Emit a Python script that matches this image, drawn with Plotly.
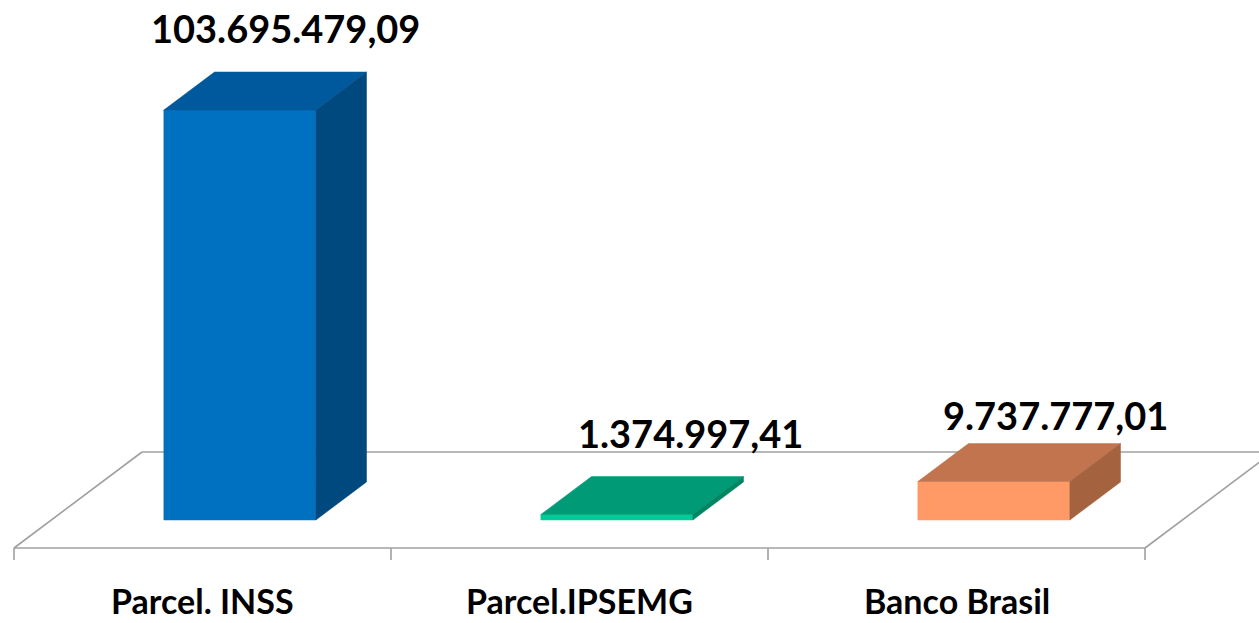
import plotly.graph_objects as go

# ---- data ----
categories = ["Parcel. INSS", "Parcel.IPSEMG", "Banco Brasil"]
values = [103695479.09, 1374997.41, 9737777.01]

# ---- style ----
front_colors = ["#0070C0", "#00CC99", "#FF9966"]
top_colors = ["#00599C", "#009B76", "#C1744D"]
side_colors = ["#00497F", "#008562", "#A4623F"]
label_xshift = [-5, 23, 11]
label_yshift = [44, 44, 29]
floor_color = "#A0A0A0"
W, H = 1259, 623

# geometry (pixel-based constants turned into axis units)
cat_px = 377.0          # pixel width of one category
x0_px = 14.0            # pixel of floor front-left corner
floor_y_px = 548.0      # pixel row of floor front edge
scale = 410.0 / 103695479.09   # px per value unit (linear axis from 0)
DX = 128.0 / cat_px     # depth shift in category units (full floor depth)
DY = 96.0 / scale       # depth shift in value units
bar_w = 152.0 / cat_px
d0, d1 = 28.0 / 96.0, 66.0 / 96.0
tick_len = 12.0 / scale


def proj(c, v, d):
    return c + d * DX, v + d * DY


fig = go.Figure()


def poly(pts, color):
    xs, ys = zip(*[proj(*p) for p in pts])
    xs = list(xs) + [xs[0]]
    ys = list(ys) + [ys[0]]
    fig.add_trace(go.Scatter(x=xs, y=ys, mode="lines", fill="toself",
                             fillcolor=color, line=dict(color=color, width=0.5),
                             hoverinfo="skip", showlegend=False))


def seg(p, q):
    a, b = proj(*p), proj(*q)
    fig.add_trace(go.Scatter(x=[a[0], b[0]], y=[a[1], b[1]], mode="lines",
                             line=dict(color=floor_color, width=1.6),
                             hoverinfo="skip", showlegend=False))


n = len(categories)
# floor
seg((0, 0, 0), (n, 0, 0))
seg((0, 0, 0), (0, 0, 1))
seg((0, 0, 1), (n + 0.2, 0, 1))
seg((n, 0, 0), (n, 0, 1))
for i in range(n + 1):
    seg((i, 0, 0), (i, -tick_len, 0))

# bars
for i, v in enumerate(values):
    c0 = i + 0.5 - bar_w / 2
    c1 = i + 0.5 + bar_w / 2
    poly([(c0, 0, d0), (c1, 0, d0), (c1, v, d0), (c0, v, d0)], front_colors[i])
    poly([(c0, v, d0), (c1, v, d0), (c1, v, d1), (c0, v, d1)], top_colors[i])
    poly([(c1, 0, d0), (c1, 0, d1), (c1, v, d1), (c1, v, d0)], side_colors[i])


def fmt_br(v):
    s = f"{v:,.2f}"
    return s.replace(",", "#").replace(".", ",").replace("#", ".")


for i, v in enumerate(values):
    x, y = proj(i + 0.5, v, d1)
    fig.add_annotation(x=x, y=y, text=f"<b>{fmt_br(v)}</b>", showarrow=False,
                       xanchor="center", yanchor="middle",
                       xshift=label_xshift[i], yshift=label_yshift[i],
                       font=dict(family="Lato", size=38, color="#000000"))

cat_y = -(600.0 - floor_y_px) / scale
for i, c in enumerate(categories):
    fig.add_annotation(x=i + 0.5, y=cat_y, text=f"<b>{c}</b>", showarrow=False,
                       xanchor="center", yanchor="middle", borderpad=0,
                       font=dict(family="Lato", size=34, color="#000000"))

fig.update_layout(
    width=W, height=H,
    margin=dict(l=0, r=0, t=0, b=0),
    paper_bgcolor="white", plot_bgcolor="white",
    xaxis=dict(range=[-x0_px / cat_px, (W - x0_px) / cat_px], visible=False,
               fixedrange=True),
    yaxis=dict(range=[-(H - floor_y_px) / scale, floor_y_px / scale],
               visible=False, fixedrange=True),
    showlegend=False,
)

fig.write_html("out.html", config={"displayModeBar": False},
               post_script="document.body.style.margin='0';document.body.style.overflow='hidden';")
